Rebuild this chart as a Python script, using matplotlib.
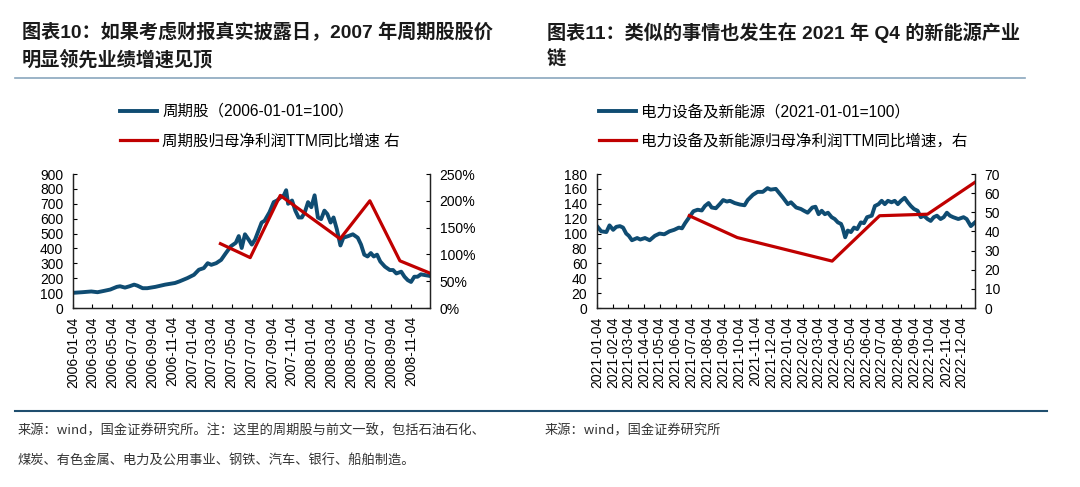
import matplotlib
matplotlib.use("Agg")
import matplotlib.pyplot as plt
from matplotlib.lines import Line2D
from matplotlib.ticker import FuncFormatter
import pandas as pd

# ---- 图表10: 周期股 2006-2008 ----
cycle_dates = [
    "2006-01-04", "2006-02-01", "2006-03-01", "2006-03-20", "2006-04-09", "2006-04-28",
    "2006-05-18", "2006-05-28", "2006-06-12", "2006-06-26", "2006-07-10", "2006-07-20",
    "2006-08-05", "2006-08-19", "2006-09-13", "2006-10-13", "2006-11-12", "2006-11-26",
    "2006-12-20", "2007-01-09", "2007-01-24", "2007-02-08", "2007-02-20", "2007-03-03",
    "2007-03-18", "2007-04-02", "2007-04-16", "2007-05-02", "2007-05-17", "2007-05-26",
    "2007-06-04", "2007-06-14", "2007-06-25", "2007-07-05", "2007-07-15", "2007-07-25",
    "2007-08-04", "2007-08-13", "2007-08-28", "2007-09-10", "2007-09-20", "2007-10-02",
    "2007-10-11", "2007-10-18", "2007-10-24", "2007-11-05", "2007-11-15", "2007-11-25",
    "2007-12-05", "2007-12-14", "2007-12-24", "2008-01-03", "2008-01-13", "2008-01-23",
    "2008-02-02", "2008-02-12", "2008-02-21", "2008-03-02", "2008-03-11", "2008-03-21",
    "2008-04-01", "2008-04-10", "2008-04-25", "2008-05-09", "2008-05-24", "2008-06-03",
    "2008-06-13", "2008-06-23", "2008-07-03", "2008-07-12", "2008-07-22", "2008-08-01",
    "2008-08-15", "2008-08-30", "2008-09-09", "2008-09-19", "2008-10-04", "2008-10-14",
    "2008-10-24", "2008-11-03", "2008-11-13", "2008-11-23", "2008-12-03", "2008-12-31",
]
cycle_index = [
    102, 106, 111, 106, 115, 124,
    142, 146, 137, 146, 157, 150,
    133, 133, 142, 157, 168, 179,
    201, 223, 257, 268, 301, 290,
    301, 323, 367, 415, 438, 483,
    403, 495, 460, 426, 460, 517,
    574, 586, 643, 711, 722, 745,
    757, 791, 700, 722, 654, 608,
    608, 643, 711, 677, 757, 608,
    597, 654, 631, 574, 608, 529,
    420, 472, 483, 495, 472, 426,
    358, 346, 369, 346, 358, 312,
    278, 255, 255, 232, 244, 210,
    187, 175, 210, 210, 226, 215,
]
cycle_profit_dates = ["2007-03-31", "2007-06-30", "2007-09-30", "2008-03-31",
                      "2008-06-30", "2008-09-30", "2008-12-31"]
cycle_profit_growth = [120, 94, 210, 129, 200, 88, 65]
left_ticks = [
    "2006-01-04", "2006-03-04", "2006-05-04", "2006-07-04", "2006-09-04", "2006-11-04",
    "2007-01-04", "2007-03-04", "2007-05-04", "2007-07-04", "2007-09-04", "2007-11-04",
    "2008-01-04", "2008-03-04", "2008-05-04", "2008-07-04", "2008-09-04", "2008-11-04",
]

# ---- 图表11: 电力设备及新能源 2021-2022 ----
ne_dates = [
    "2021-01-04", "2021-01-12", "2021-01-22", "2021-01-28", "2021-02-04", "2021-02-10",
    "2021-02-17", "2021-02-23", "2021-03-01", "2021-03-06", "2021-03-12", "2021-03-22",
    "2021-03-28", "2021-04-06", "2021-04-15", "2021-04-25", "2021-05-04", "2021-05-13",
    "2021-05-23", "2021-06-01", "2021-06-10", "2021-06-16", "2021-06-22", "2021-07-01",
    "2021-07-08", "2021-07-16", "2021-07-24", "2021-07-30", "2021-08-06", "2021-08-12",
    "2021-08-20", "2021-08-28", "2021-09-03", "2021-09-10", "2021-09-16", "2021-09-25",
    "2021-10-05", "2021-10-14", "2021-10-20", "2021-10-30", "2021-11-08", "2021-11-18",
    "2021-11-27", "2021-12-03", "2021-12-13", "2021-12-27", "2022-01-05", "2022-01-11",
    "2022-01-21", "2022-01-30", "2022-02-05", "2022-02-12", "2022-02-21", "2022-02-27",
    "2022-03-05", "2022-03-11", "2022-03-17", "2022-03-23", "2022-03-30", "2022-04-05",
    "2022-04-11", "2022-04-17", "2022-04-20", "2022-04-25", "2022-04-30", "2022-05-06",
    "2022-05-12", "2022-05-18", "2022-05-25", "2022-05-31", "2022-06-06", "2022-06-15",
    "2022-06-21", "2022-06-28", "2022-07-04", "2022-07-10", "2022-07-16", "2022-07-23",
    "2022-07-29", "2022-08-04", "2022-08-10", "2022-08-17", "2022-08-23", "2022-08-29",
    "2022-09-04", "2022-09-11", "2022-09-17", "2022-09-23", "2022-09-30", "2022-10-06",
    "2022-10-12", "2022-10-18", "2022-10-25", "2022-10-31", "2022-11-06", "2022-11-12",
    "2022-11-18", "2022-11-28", "2022-12-08", "2022-12-14", "2022-12-22", "2022-12-30",
]
ne_index = [
    110, 103, 102, 111, 105, 109,
    110, 108, 100, 97, 91, 94,
    92, 94, 91, 97, 100, 99,
    103, 105, 108, 107, 114, 123,
    130, 132, 131, 137, 141, 135,
    134, 140, 145, 143, 144, 141,
    139, 138, 145, 152, 156, 156,
    161, 159, 160, 148, 139.5, 142,
    135, 133, 130.6, 128, 135, 136,
    126, 130.6, 126, 128, 122, 119.5,
    115, 113, 108, 95, 104, 102,
    108, 106, 115, 114, 122, 124,
    137, 139.5, 144, 139.5, 144, 142,
    144, 139.5, 144, 148, 142, 137,
    133, 130.6, 122, 124, 119.5, 117,
    122, 124, 119.5, 122, 128, 124,
    122, 119.5, 122, 119.5, 110, 115,
]
ne_profit_dates = ["2021-06-30", "2021-09-30", "2022-03-31", "2022-06-30",
                   "2022-09-30", "2022-12-30"]
ne_profit_growth = [48.2, 36.8, 24.5, 48.2, 49.0, 65.7]
right_ticks = [
    "2021-01-04", "2021-02-04", "2021-03-04", "2021-04-04", "2021-05-04", "2021-06-04",
    "2021-07-04", "2021-08-04", "2021-09-04", "2021-10-04", "2021-11-04", "2021-12-04",
    "2022-01-04", "2022-02-04", "2022-03-04", "2022-04-04", "2022-05-04", "2022-06-04",
    "2022-07-04", "2022-08-04", "2022-09-04", "2022-10-04", "2022-11-04", "2022-12-04",
]

BLUE = "#0f4c72"
RED = "#c00000"
W, H = 1080, 487

plt.rcParams.update({
    "font.family": ["Liberation Sans", "Noto Sans CJK SC"],
    "font.size": 10,
    "axes.linewidth": 0.9,
    "xtick.direction": "in",
    "ytick.direction": "in",
    "xtick.major.size": 3,
    "ytick.major.size": 3,
})


def fx(px):
    return px / W


def fy(py):
    return 1 - py / H


def build_panel(rect, dates, values, pdates, pvalues, ticks, xlim,
                ylim, ystep, y2lim, y2step, pct, labels, legend_x):
    ax = fig.add_axes(rect)
    ax2 = ax.twinx()
    blue, = ax.plot(pd.to_datetime(dates), values, color=BLUE, lw=2.8,
                    solid_joinstyle="round")
    red, = ax2.plot(pd.to_datetime(pdates), pvalues, color=RED, lw=2.3)
    ax.set_xlim(pd.to_datetime(xlim[0]), pd.to_datetime(xlim[1]))
    ax.set_ylim(*ylim)
    ax.set_yticks(range(ylim[0], ylim[1] + 1, ystep))
    ax2.set_ylim(*y2lim)
    ax2.set_yticks(range(y2lim[0], y2lim[1] + 1, y2step))
    if pct:
        ax2.yaxis.set_major_formatter(FuncFormatter(lambda v, _: f"{v:.0f}%"))
    ax.set_xticks(pd.to_datetime(ticks))
    ax.set_xticklabels(ticks, rotation=90)
    ax.tick_params(axis="x", pad=6, labelsize=10)
    ax.tick_params(axis="y", pad=7, labelsize=10)
    ax2.tick_params(axis="y", pad=7, labelsize=10)
    for a in (ax, ax2):
        a.spines["top"].set_visible(False)
        for s in a.spines.values():
            s.set_color("#222222")
    fig.legend([blue, red], labels, loc="upper left",
               bbox_to_anchor=(fx(legend_x), fy(104)), frameon=False,
               borderpad=0, borderaxespad=0, handlelength=2.4,
               handletextpad=0.3, labelspacing=0.92, fontsize=11.2)
    return ax, ax2


fig = plt.figure(figsize=(W / 100, H / 100), dpi=100)

build_panel([fx(73), fy(308), fx(430 - 73), 134 / H],
            cycle_dates, cycle_index, cycle_profit_dates, cycle_profit_growth,
            left_ticks, ("2006-01-04", "2008-12-31"), (0, 900), 100, (0, 250), 50, True,
            ["周期股（2006-01-01=100）", "周期股归母净利润TTM同比增速 右"], 120)

build_panel([fx(597), fy(308), fx(975 - 597), 134 / H],
            ne_dates, ne_index, ne_profit_dates, ne_profit_growth,
            right_ticks, ("2021-01-04", "2022-12-30"), (0, 180), 20, (0, 70), 10, False,
            ["电力设备及新能源（2021-01-01=100）", "电力设备及新能源归母净利润TTM同比增速，右"], 599)

# titles
title_kw = dict(fontsize=13.8, weight="bold", color="#1a1a1a", va="center", ha="left")
fig.text(fx(22), fy(33), "图表10：如果考虑财报真实披露日，2007 年周期股股价", **title_kw)
fig.text(fx(22), fy(60), "明显领先业绩增速见顶", **title_kw)
fig.text(fx(547), fy(33), "图表11：类似的事情也发生在 2021 年 Q4 的新能源产业", **title_kw)
fig.text(fx(547), fy(60), "链", **title_kw)
fig.add_artist(Line2D([fx(15), fx(1025)], [fy(78), fy(78)], color="#8aa7bd", lw=1.2))

# footer
fig.add_artist(Line2D([fx(15), fx(1047)], [fy(411), fy(411)], color="#1f4e6e", lw=1.5))
foot_kw = dict(fontsize=9.5, color="#333333", va="center", ha="left",
               family=["Noto Sans CJK SC"])
fig.text(fx(18), fy(431), "来源：wind，国金证券研究所。注：这里的周期股与前文一致，包括石油石化、", **foot_kw)
fig.text(fx(18), fy(461), "煤炭、有色金属、电力及公用事业、钢铁、汽车、银行、船舶制造。", **foot_kw)
fig.text(fx(545), fy(431), "来源：wind，国金证券研究所", **foot_kw)

fig.savefig("out.png", dpi=100)
